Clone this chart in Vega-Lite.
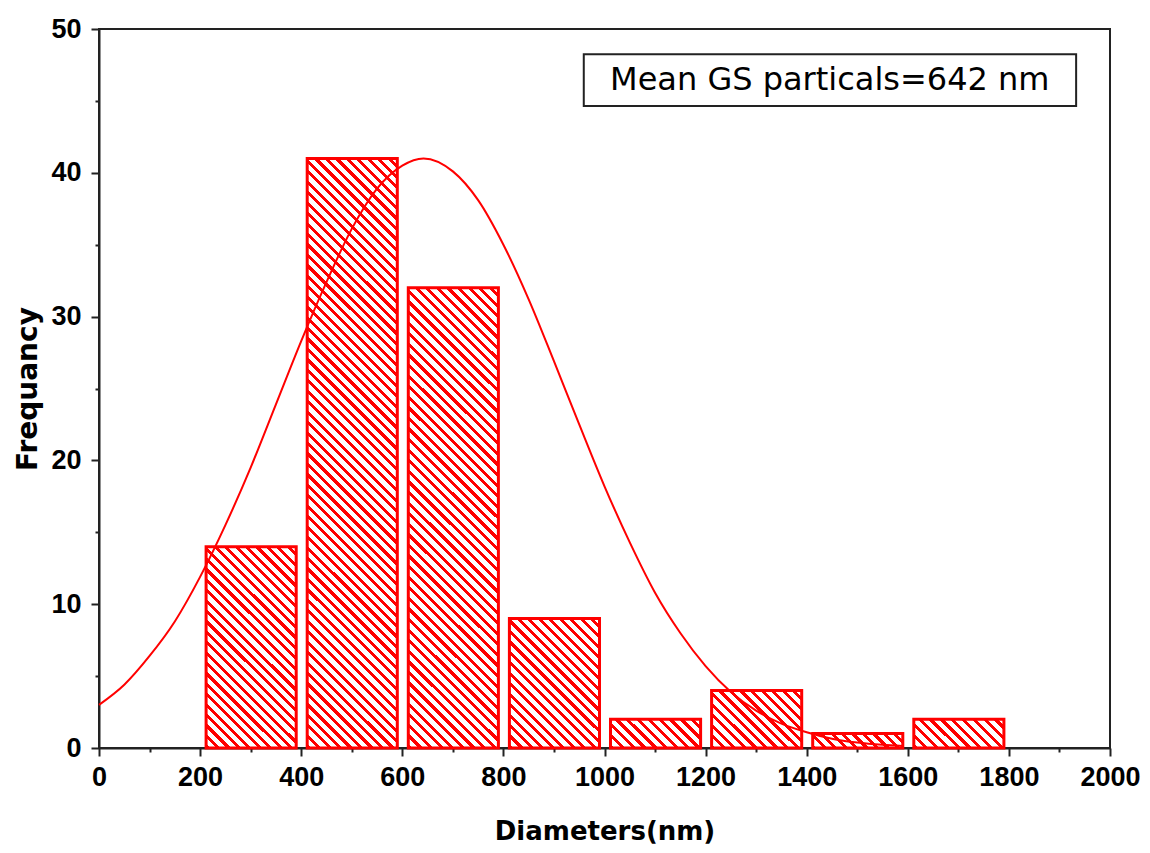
{"$schema":"https://vega.github.io/schema/vega-lite/v6.json","width":1011,"height":719,"autosize":"none","padding":{"left":99,"top":29,"right":40,"bottom":105},"background":"white",
"config":{"view":{"stroke":"#222","strokeWidth":2},"font":"DejaVu Sans","axis":{"domainColor":"#222","domainWidth":2,"tickColor":"#222","tickWidth":2,"grid":false,"labelFont":"Liberation Sans","labelFontWeight":"bold","labelFontSize":27,"labelColor":"black","titleFont":"DejaVu Sans","titleFontWeight":"bold","titleColor":"black","labelOverlap":false,"labelFlush":false}},
"layer":[
{"data":{"values":[{"start":200,"end":400,"Frequency":14},{"start":400,"end":600,"Frequency":41},{"start":600,"end":800,"Frequency":32},{"start":800,"end":1000,"Frequency":9},{"start":1000,"end":1200,"Frequency":2},{"start":1200,"end":1400,"Frequency":4},{"start":1400,"end":1600,"Frequency":1},{"start":1600,"end":1800,"Frequency":2}]},
"mark":{"type":"bar","stroke":"red","strokeWidth":3,"binSpacing":11},
"encoding":{
"x":{"field":"start","type":"quantitative","bin":"binned","title":"Diameters(nm)","scale":{"domain":[0,2000],"nice":false},"axis":{"title":"Diameters(nm)","titleFontSize":26,"titlePadding":28,"values":[0,100,200,300,400,500,600,700,800,900,1000,1100,1200,1300,1400,1500,1600,1700,1800,1900,2000],"labelExpr":"datum.value % 200 === 0 ? datum.label : ''","tickSize":{"condition":{"test":"datum.value % 200 === 0","value":8},"value":4},"labelPadding":8,"format":"d"}},
"x2":{"field":"end"},
"y":{"field":"Frequency","type":"quantitative","title":"Frequancy","scale":{"domain":[0,50],"nice":false},"axis":{"title":"Frequancy","titleFontSize":28,"titlePadding":8,"values":[0,5,10,15,20,25,30,35,40,45,50],"labelExpr":"datum.value % 10 === 0 ? datum.label : ''","tickSize":{"condition":{"test":"datum.value % 10 === 0","value":8},"value":4},"labelPadding":10}},
"fill":{"condition":[
{"test":"datum.Frequency == 1","value":{"gradient":"linear","x1":0,"y1":1,"x2":1.131,"y2":0.819,"stops":[{"offset":0,"color":"red"},{"offset":0.04,"color":"red"},{"offset":0.04,"color":"#fff"},{"offset":0.1,"color":"#fff"},{"offset":0.1,"color":"red"},{"offset":0.14,"color":"red"},{"offset":0.14,"color":"#fff"},{"offset":0.2,"color":"#fff"},{"offset":0.2,"color":"red"},{"offset":0.24,"color":"red"},{"offset":0.24,"color":"#fff"},{"offset":0.3,"color":"#fff"},{"offset":0.3,"color":"red"},{"offset":0.34,"color":"red"},{"offset":0.34,"color":"#fff"},{"offset":0.4,"color":"#fff"},{"offset":0.4,"color":"red"},{"offset":0.44,"color":"red"},{"offset":0.44,"color":"#fff"},{"offset":0.5,"color":"#fff"},{"offset":0.5,"color":"red"},{"offset":0.54,"color":"red"},{"offset":0.54,"color":"#fff"},{"offset":0.6,"color":"#fff"},{"offset":0.6,"color":"red"},{"offset":0.64,"color":"red"},{"offset":0.64,"color":"#fff"},{"offset":0.7,"color":"#fff"},{"offset":0.7,"color":"red"},{"offset":0.74,"color":"red"},{"offset":0.74,"color":"#fff"},{"offset":0.8,"color":"#fff"},{"offset":0.8,"color":"red"},{"offset":0.84,"color":"red"},{"offset":0.84,"color":"#fff"},{"offset":0.9,"color":"#fff"},{"offset":0.9,"color":"red"},{"offset":0.94,"color":"red"},{"offset":0.94,"color":"#fff"},{"offset":1,"color":"#fff"}]}},
{"test":"datum.Frequency == 2","value":{"gradient":"linear","x1":0,"y1":1,"x2":1.197,"y2":0.617,"stops":[{"offset":0,"color":"red"},{"offset":0.0364,"color":"red"},{"offset":0.0364,"color":"#fff"},{"offset":0.0909,"color":"#fff"},{"offset":0.0909,"color":"red"},{"offset":0.1273,"color":"red"},{"offset":0.1273,"color":"#fff"},{"offset":0.1818,"color":"#fff"},{"offset":0.1818,"color":"red"},{"offset":0.2182,"color":"red"},{"offset":0.2182,"color":"#fff"},{"offset":0.2727,"color":"#fff"},{"offset":0.2727,"color":"red"},{"offset":0.3091,"color":"red"},{"offset":0.3091,"color":"#fff"},{"offset":0.3636,"color":"#fff"},{"offset":0.3636,"color":"red"},{"offset":0.4,"color":"red"},{"offset":0.4,"color":"#fff"},{"offset":0.4545,"color":"#fff"},{"offset":0.4545,"color":"red"},{"offset":0.4909,"color":"red"},{"offset":0.4909,"color":"#fff"},{"offset":0.5455,"color":"#fff"},{"offset":0.5455,"color":"red"},{"offset":0.5818,"color":"red"},{"offset":0.5818,"color":"#fff"},{"offset":0.6364,"color":"#fff"},{"offset":0.6364,"color":"red"},{"offset":0.6727,"color":"red"},{"offset":0.6727,"color":"#fff"},{"offset":0.7273,"color":"#fff"},{"offset":0.7273,"color":"red"},{"offset":0.7636,"color":"red"},{"offset":0.7636,"color":"#fff"},{"offset":0.8182,"color":"#fff"},{"offset":0.8182,"color":"red"},{"offset":0.8545,"color":"red"},{"offset":0.8545,"color":"#fff"},{"offset":0.9091,"color":"#fff"},{"offset":0.9091,"color":"red"},{"offset":0.9455,"color":"red"},{"offset":0.9455,"color":"#fff"},{"offset":1,"color":"#fff"}]}},
{"test":"datum.Frequency == 4","value":{"gradient":"linear","x1":0,"y1":1,"x2":1.164,"y2":0.256,"stops":[{"offset":0,"color":"red"},{"offset":0.0286,"color":"red"},{"offset":0.0286,"color":"#fff"},{"offset":0.0714,"color":"#fff"},{"offset":0.0714,"color":"red"},{"offset":0.1,"color":"red"},{"offset":0.1,"color":"#fff"},{"offset":0.1429,"color":"#fff"},{"offset":0.1429,"color":"red"},{"offset":0.1714,"color":"red"},{"offset":0.1714,"color":"#fff"},{"offset":0.2143,"color":"#fff"},{"offset":0.2143,"color":"red"},{"offset":0.2429,"color":"red"},{"offset":0.2429,"color":"#fff"},{"offset":0.2857,"color":"#fff"},{"offset":0.2857,"color":"red"},{"offset":0.3143,"color":"red"},{"offset":0.3143,"color":"#fff"},{"offset":0.3571,"color":"#fff"},{"offset":0.3571,"color":"red"},{"offset":0.3857,"color":"red"},{"offset":0.3857,"color":"#fff"},{"offset":0.4286,"color":"#fff"},{"offset":0.4286,"color":"red"},{"offset":0.4571,"color":"red"},{"offset":0.4571,"color":"#fff"},{"offset":0.5,"color":"#fff"},{"offset":0.5,"color":"red"},{"offset":0.5286,"color":"red"},{"offset":0.5286,"color":"#fff"},{"offset":0.5714,"color":"#fff"},{"offset":0.5714,"color":"red"},{"offset":0.6,"color":"red"},{"offset":0.6,"color":"#fff"},{"offset":0.6429,"color":"#fff"},{"offset":0.6429,"color":"red"},{"offset":0.6714,"color":"red"},{"offset":0.6714,"color":"#fff"},{"offset":0.7143,"color":"#fff"},{"offset":0.7143,"color":"red"},{"offset":0.7429,"color":"red"},{"offset":0.7429,"color":"#fff"},{"offset":0.7857,"color":"#fff"},{"offset":0.7857,"color":"red"},{"offset":0.8143,"color":"red"},{"offset":0.8143,"color":"#fff"},{"offset":0.8571,"color":"#fff"},{"offset":0.8571,"color":"red"},{"offset":0.8857,"color":"red"},{"offset":0.8857,"color":"#fff"},{"offset":0.9286,"color":"#fff"},{"offset":0.9286,"color":"red"},{"offset":0.9571,"color":"red"},{"offset":0.9571,"color":"#fff"},{"offset":1,"color":"#fff"}]}},
{"test":"datum.Frequency == 9","value":{"gradient":"linear","x1":0,"y1":1,"x2":0.795,"y2":-0.143,"stops":[{"offset":0,"color":"red"},{"offset":0.019,"color":"red"},{"offset":0.019,"color":"#fff"},{"offset":0.0476,"color":"#fff"},{"offset":0.0476,"color":"red"},{"offset":0.0667,"color":"red"},{"offset":0.0667,"color":"#fff"},{"offset":0.0952,"color":"#fff"},{"offset":0.0952,"color":"red"},{"offset":0.1143,"color":"red"},{"offset":0.1143,"color":"#fff"},{"offset":0.1429,"color":"#fff"},{"offset":0.1429,"color":"red"},{"offset":0.1619,"color":"red"},{"offset":0.1619,"color":"#fff"},{"offset":0.1905,"color":"#fff"},{"offset":0.1905,"color":"red"},{"offset":0.2095,"color":"red"},{"offset":0.2095,"color":"#fff"},{"offset":0.2381,"color":"#fff"},{"offset":0.2381,"color":"red"},{"offset":0.2571,"color":"red"},{"offset":0.2571,"color":"#fff"},{"offset":0.2857,"color":"#fff"},{"offset":0.2857,"color":"red"},{"offset":0.3048,"color":"red"},{"offset":0.3048,"color":"#fff"},{"offset":0.3333,"color":"#fff"},{"offset":0.3333,"color":"red"},{"offset":0.3524,"color":"red"},{"offset":0.3524,"color":"#fff"},{"offset":0.381,"color":"#fff"},{"offset":0.381,"color":"red"},{"offset":0.4,"color":"red"},{"offset":0.4,"color":"#fff"},{"offset":0.4286,"color":"#fff"},{"offset":0.4286,"color":"red"},{"offset":0.4476,"color":"red"},{"offset":0.4476,"color":"#fff"},{"offset":0.4762,"color":"#fff"},{"offset":0.4762,"color":"red"},{"offset":0.4952,"color":"red"},{"offset":0.4952,"color":"#fff"},{"offset":0.5238,"color":"#fff"},{"offset":0.5238,"color":"red"},{"offset":0.5429,"color":"red"},{"offset":0.5429,"color":"#fff"},{"offset":0.5714,"color":"#fff"},{"offset":0.5714,"color":"red"},{"offset":0.5905,"color":"red"},{"offset":0.5905,"color":"#fff"},{"offset":0.619,"color":"#fff"},{"offset":0.619,"color":"red"},{"offset":0.6381,"color":"red"},{"offset":0.6381,"color":"#fff"},{"offset":0.6667,"color":"#fff"},{"offset":0.6667,"color":"red"},{"offset":0.6857,"color":"red"},{"offset":0.6857,"color":"#fff"},{"offset":0.7143,"color":"#fff"},{"offset":0.7143,"color":"red"},{"offset":0.7333,"color":"red"},{"offset":0.7333,"color":"#fff"},{"offset":0.7619,"color":"#fff"},{"offset":0.7619,"color":"red"},{"offset":0.781,"color":"red"},{"offset":0.781,"color":"#fff"},{"offset":0.8095,"color":"#fff"},{"offset":0.8095,"color":"red"},{"offset":0.8286,"color":"red"},{"offset":0.8286,"color":"#fff"},{"offset":0.8571,"color":"#fff"},{"offset":0.8571,"color":"red"},{"offset":0.8762,"color":"red"},{"offset":0.8762,"color":"#fff"},{"offset":0.9048,"color":"#fff"},{"offset":0.9048,"color":"red"},{"offset":0.9238,"color":"red"},{"offset":0.9238,"color":"#fff"},{"offset":0.9524,"color":"#fff"},{"offset":0.9524,"color":"red"},{"offset":0.9714,"color":"red"},{"offset":0.9714,"color":"#fff"},{"offset":1,"color":"#fff"}]}},
{"test":"datum.Frequency == 14","value":{"gradient":"linear","x1":0,"y1":1,"x2":0.539,"y2":-0.206,"stops":[{"offset":0,"color":"red"},{"offset":0.0143,"color":"red"},{"offset":0.0143,"color":"#fff"},{"offset":0.0357,"color":"#fff"},{"offset":0.0357,"color":"red"},{"offset":0.05,"color":"red"},{"offset":0.05,"color":"#fff"},{"offset":0.0714,"color":"#fff"},{"offset":0.0714,"color":"red"},{"offset":0.0857,"color":"red"},{"offset":0.0857,"color":"#fff"},{"offset":0.1071,"color":"#fff"},{"offset":0.1071,"color":"red"},{"offset":0.1214,"color":"red"},{"offset":0.1214,"color":"#fff"},{"offset":0.1429,"color":"#fff"},{"offset":0.1429,"color":"red"},{"offset":0.1571,"color":"red"},{"offset":0.1571,"color":"#fff"},{"offset":0.1786,"color":"#fff"},{"offset":0.1786,"color":"red"},{"offset":0.1929,"color":"red"},{"offset":0.1929,"color":"#fff"},{"offset":0.2143,"color":"#fff"},{"offset":0.2143,"color":"red"},{"offset":0.2286,"color":"red"},{"offset":0.2286,"color":"#fff"},{"offset":0.25,"color":"#fff"},{"offset":0.25,"color":"red"},{"offset":0.2643,"color":"red"},{"offset":0.2643,"color":"#fff"},{"offset":0.2857,"color":"#fff"},{"offset":0.2857,"color":"red"},{"offset":0.3,"color":"red"},{"offset":0.3,"color":"#fff"},{"offset":0.3214,"color":"#fff"},{"offset":0.3214,"color":"red"},{"offset":0.3357,"color":"red"},{"offset":0.3357,"color":"#fff"},{"offset":0.3571,"color":"#fff"},{"offset":0.3571,"color":"red"},{"offset":0.3714,"color":"red"},{"offset":0.3714,"color":"#fff"},{"offset":0.3929,"color":"#fff"},{"offset":0.3929,"color":"red"},{"offset":0.4071,"color":"red"},{"offset":0.4071,"color":"#fff"},{"offset":0.4286,"color":"#fff"},{"offset":0.4286,"color":"red"},{"offset":0.4429,"color":"red"},{"offset":0.4429,"color":"#fff"},{"offset":0.4643,"color":"#fff"},{"offset":0.4643,"color":"red"},{"offset":0.4786,"color":"red"},{"offset":0.4786,"color":"#fff"},{"offset":0.5,"color":"#fff"},{"offset":0.5,"color":"red"},{"offset":0.5143,"color":"red"},{"offset":0.5143,"color":"#fff"},{"offset":0.5357,"color":"#fff"},{"offset":0.5357,"color":"red"},{"offset":0.55,"color":"red"},{"offset":0.55,"color":"#fff"},{"offset":0.5714,"color":"#fff"},{"offset":0.5714,"color":"red"},{"offset":0.5857,"color":"red"},{"offset":0.5857,"color":"#fff"},{"offset":0.6071,"color":"#fff"},{"offset":0.6071,"color":"red"},{"offset":0.6214,"color":"red"},{"offset":0.6214,"color":"#fff"},{"offset":0.6429,"color":"#fff"},{"offset":0.6429,"color":"red"},{"offset":0.6571,"color":"red"},{"offset":0.6571,"color":"#fff"},{"offset":0.6786,"color":"#fff"},{"offset":0.6786,"color":"red"},{"offset":0.6929,"color":"red"},{"offset":0.6929,"color":"#fff"},{"offset":0.7143,"color":"#fff"},{"offset":0.7143,"color":"red"},{"offset":0.7286,"color":"red"},{"offset":0.7286,"color":"#fff"},{"offset":0.75,"color":"#fff"},{"offset":0.75,"color":"red"},{"offset":0.7643,"color":"red"},{"offset":0.7643,"color":"#fff"},{"offset":0.7857,"color":"#fff"},{"offset":0.7857,"color":"red"},{"offset":0.8,"color":"red"},{"offset":0.8,"color":"#fff"},{"offset":0.8214,"color":"#fff"},{"offset":0.8214,"color":"red"},{"offset":0.8357,"color":"red"},{"offset":0.8357,"color":"#fff"},{"offset":0.8571,"color":"#fff"},{"offset":0.8571,"color":"red"},{"offset":0.8714,"color":"red"},{"offset":0.8714,"color":"#fff"},{"offset":0.8929,"color":"#fff"},{"offset":0.8929,"color":"red"},{"offset":0.9071,"color":"red"},{"offset":0.9071,"color":"#fff"},{"offset":0.9286,"color":"#fff"},{"offset":0.9286,"color":"red"},{"offset":0.9429,"color":"red"},{"offset":0.9429,"color":"#fff"},{"offset":0.9643,"color":"#fff"},{"offset":0.9643,"color":"red"},{"offset":0.9786,"color":"red"},{"offset":0.9786,"color":"#fff"},{"offset":1,"color":"#fff"}]}},
{"test":"datum.Frequency == 32","value":{"gradient":"linear","x1":0,"y1":1,"x2":0.225,"y2":-0.152,"stops":[{"offset":0,"color":"red"},{"offset":0.0077,"color":"red"},{"offset":0.0077,"color":"#fff"},{"offset":0.0192,"color":"#fff"},{"offset":0.0192,"color":"red"},{"offset":0.0269,"color":"red"},{"offset":0.0269,"color":"#fff"},{"offset":0.0385,"color":"#fff"},{"offset":0.0385,"color":"red"},{"offset":0.0462,"color":"red"},{"offset":0.0462,"color":"#fff"},{"offset":0.0577,"color":"#fff"},{"offset":0.0577,"color":"red"},{"offset":0.0654,"color":"red"},{"offset":0.0654,"color":"#fff"},{"offset":0.0769,"color":"#fff"},{"offset":0.0769,"color":"red"},{"offset":0.0846,"color":"red"},{"offset":0.0846,"color":"#fff"},{"offset":0.0962,"color":"#fff"},{"offset":0.0962,"color":"red"},{"offset":0.1038,"color":"red"},{"offset":0.1038,"color":"#fff"},{"offset":0.1154,"color":"#fff"},{"offset":0.1154,"color":"red"},{"offset":0.1231,"color":"red"},{"offset":0.1231,"color":"#fff"},{"offset":0.1346,"color":"#fff"},{"offset":0.1346,"color":"red"},{"offset":0.1423,"color":"red"},{"offset":0.1423,"color":"#fff"},{"offset":0.1538,"color":"#fff"},{"offset":0.1538,"color":"red"},{"offset":0.1615,"color":"red"},{"offset":0.1615,"color":"#fff"},{"offset":0.1731,"color":"#fff"},{"offset":0.1731,"color":"red"},{"offset":0.1808,"color":"red"},{"offset":0.1808,"color":"#fff"},{"offset":0.1923,"color":"#fff"},{"offset":0.1923,"color":"red"},{"offset":0.2,"color":"red"},{"offset":0.2,"color":"#fff"},{"offset":0.2115,"color":"#fff"},{"offset":0.2115,"color":"red"},{"offset":0.2192,"color":"red"},{"offset":0.2192,"color":"#fff"},{"offset":0.2308,"color":"#fff"},{"offset":0.2308,"color":"red"},{"offset":0.2385,"color":"red"},{"offset":0.2385,"color":"#fff"},{"offset":0.25,"color":"#fff"},{"offset":0.25,"color":"red"},{"offset":0.2577,"color":"red"},{"offset":0.2577,"color":"#fff"},{"offset":0.2692,"color":"#fff"},{"offset":0.2692,"color":"red"},{"offset":0.2769,"color":"red"},{"offset":0.2769,"color":"#fff"},{"offset":0.2885,"color":"#fff"},{"offset":0.2885,"color":"red"},{"offset":0.2962,"color":"red"},{"offset":0.2962,"color":"#fff"},{"offset":0.3077,"color":"#fff"},{"offset":0.3077,"color":"red"},{"offset":0.3154,"color":"red"},{"offset":0.3154,"color":"#fff"},{"offset":0.3269,"color":"#fff"},{"offset":0.3269,"color":"red"},{"offset":0.3346,"color":"red"},{"offset":0.3346,"color":"#fff"},{"offset":0.3462,"color":"#fff"},{"offset":0.3462,"color":"red"},{"offset":0.3538,"color":"red"},{"offset":0.3538,"color":"#fff"},{"offset":0.3654,"color":"#fff"},{"offset":0.3654,"color":"red"},{"offset":0.3731,"color":"red"},{"offset":0.3731,"color":"#fff"},{"offset":0.3846,"color":"#fff"},{"offset":0.3846,"color":"red"},{"offset":0.3923,"color":"red"},{"offset":0.3923,"color":"#fff"},{"offset":0.4038,"color":"#fff"},{"offset":0.4038,"color":"red"},{"offset":0.4115,"color":"red"},{"offset":0.4115,"color":"#fff"},{"offset":0.4231,"color":"#fff"},{"offset":0.4231,"color":"red"},{"offset":0.4308,"color":"red"},{"offset":0.4308,"color":"#fff"},{"offset":0.4423,"color":"#fff"},{"offset":0.4423,"color":"red"},{"offset":0.45,"color":"red"},{"offset":0.45,"color":"#fff"},{"offset":0.4615,"color":"#fff"},{"offset":0.4615,"color":"red"},{"offset":0.4692,"color":"red"},{"offset":0.4692,"color":"#fff"},{"offset":0.4808,"color":"#fff"},{"offset":0.4808,"color":"red"},{"offset":0.4885,"color":"red"},{"offset":0.4885,"color":"#fff"},{"offset":0.5,"color":"#fff"},{"offset":0.5,"color":"red"},{"offset":0.5077,"color":"red"},{"offset":0.5077,"color":"#fff"},{"offset":0.5192,"color":"#fff"},{"offset":0.5192,"color":"red"},{"offset":0.5269,"color":"red"},{"offset":0.5269,"color":"#fff"},{"offset":0.5385,"color":"#fff"},{"offset":0.5385,"color":"red"},{"offset":0.5462,"color":"red"},{"offset":0.5462,"color":"#fff"},{"offset":0.5577,"color":"#fff"},{"offset":0.5577,"color":"red"},{"offset":0.5654,"color":"red"},{"offset":0.5654,"color":"#fff"},{"offset":0.5769,"color":"#fff"},{"offset":0.5769,"color":"red"},{"offset":0.5846,"color":"red"},{"offset":0.5846,"color":"#fff"},{"offset":0.5962,"color":"#fff"},{"offset":0.5962,"color":"red"},{"offset":0.6038,"color":"red"},{"offset":0.6038,"color":"#fff"},{"offset":0.6154,"color":"#fff"},{"offset":0.6154,"color":"red"},{"offset":0.6231,"color":"red"},{"offset":0.6231,"color":"#fff"},{"offset":0.6346,"color":"#fff"},{"offset":0.6346,"color":"red"},{"offset":0.6423,"color":"red"},{"offset":0.6423,"color":"#fff"},{"offset":0.6538,"color":"#fff"},{"offset":0.6538,"color":"red"},{"offset":0.6615,"color":"red"},{"offset":0.6615,"color":"#fff"},{"offset":0.6731,"color":"#fff"},{"offset":0.6731,"color":"red"},{"offset":0.6808,"color":"red"},{"offset":0.6808,"color":"#fff"},{"offset":0.6923,"color":"#fff"},{"offset":0.6923,"color":"red"},{"offset":0.7,"color":"red"},{"offset":0.7,"color":"#fff"},{"offset":0.7115,"color":"#fff"},{"offset":0.7115,"color":"red"},{"offset":0.7192,"color":"red"},{"offset":0.7192,"color":"#fff"},{"offset":0.7308,"color":"#fff"},{"offset":0.7308,"color":"red"},{"offset":0.7385,"color":"red"},{"offset":0.7385,"color":"#fff"},{"offset":0.75,"color":"#fff"},{"offset":0.75,"color":"red"},{"offset":0.7577,"color":"red"},{"offset":0.7577,"color":"#fff"},{"offset":0.7692,"color":"#fff"},{"offset":0.7692,"color":"red"},{"offset":0.7769,"color":"red"},{"offset":0.7769,"color":"#fff"},{"offset":0.7885,"color":"#fff"},{"offset":0.7885,"color":"red"},{"offset":0.7962,"color":"red"},{"offset":0.7962,"color":"#fff"},{"offset":0.8077,"color":"#fff"},{"offset":0.8077,"color":"red"},{"offset":0.8154,"color":"red"},{"offset":0.8154,"color":"#fff"},{"offset":0.8269,"color":"#fff"},{"offset":0.8269,"color":"red"},{"offset":0.8346,"color":"red"},{"offset":0.8346,"color":"#fff"},{"offset":0.8462,"color":"#fff"},{"offset":0.8462,"color":"red"},{"offset":0.8538,"color":"red"},{"offset":0.8538,"color":"#fff"},{"offset":0.8654,"color":"#fff"},{"offset":0.8654,"color":"red"},{"offset":0.8731,"color":"red"},{"offset":0.8731,"color":"#fff"},{"offset":0.8846,"color":"#fff"},{"offset":0.8846,"color":"red"},{"offset":0.8923,"color":"red"},{"offset":0.8923,"color":"#fff"},{"offset":0.9038,"color":"#fff"},{"offset":0.9038,"color":"red"},{"offset":0.9115,"color":"red"},{"offset":0.9115,"color":"#fff"},{"offset":0.9231,"color":"#fff"},{"offset":0.9231,"color":"red"},{"offset":0.9308,"color":"red"},{"offset":0.9308,"color":"#fff"},{"offset":0.9423,"color":"#fff"},{"offset":0.9423,"color":"red"},{"offset":0.95,"color":"red"},{"offset":0.95,"color":"#fff"},{"offset":0.9615,"color":"#fff"},{"offset":0.9615,"color":"red"},{"offset":0.9692,"color":"red"},{"offset":0.9692,"color":"#fff"},{"offset":0.9808,"color":"#fff"},{"offset":0.9808,"color":"red"},{"offset":0.9885,"color":"red"},{"offset":0.9885,"color":"#fff"},{"offset":1,"color":"#fff"}]}}],
"value":{"gradient":"linear","x1":0,"y1":1,"x2":0.172,"y2":-0.126,"stops":[{"offset":0,"color":"red"},{"offset":0.0062,"color":"red"},{"offset":0.0062,"color":"#fff"},{"offset":0.0154,"color":"#fff"},{"offset":0.0154,"color":"red"},{"offset":0.0215,"color":"red"},{"offset":0.0215,"color":"#fff"},{"offset":0.0308,"color":"#fff"},{"offset":0.0308,"color":"red"},{"offset":0.0369,"color":"red"},{"offset":0.0369,"color":"#fff"},{"offset":0.0462,"color":"#fff"},{"offset":0.0462,"color":"red"},{"offset":0.0523,"color":"red"},{"offset":0.0523,"color":"#fff"},{"offset":0.0615,"color":"#fff"},{"offset":0.0615,"color":"red"},{"offset":0.0677,"color":"red"},{"offset":0.0677,"color":"#fff"},{"offset":0.0769,"color":"#fff"},{"offset":0.0769,"color":"red"},{"offset":0.0831,"color":"red"},{"offset":0.0831,"color":"#fff"},{"offset":0.0923,"color":"#fff"},{"offset":0.0923,"color":"red"},{"offset":0.0985,"color":"red"},{"offset":0.0985,"color":"#fff"},{"offset":0.1077,"color":"#fff"},{"offset":0.1077,"color":"red"},{"offset":0.1138,"color":"red"},{"offset":0.1138,"color":"#fff"},{"offset":0.1231,"color":"#fff"},{"offset":0.1231,"color":"red"},{"offset":0.1292,"color":"red"},{"offset":0.1292,"color":"#fff"},{"offset":0.1385,"color":"#fff"},{"offset":0.1385,"color":"red"},{"offset":0.1446,"color":"red"},{"offset":0.1446,"color":"#fff"},{"offset":0.1538,"color":"#fff"},{"offset":0.1538,"color":"red"},{"offset":0.16,"color":"red"},{"offset":0.16,"color":"#fff"},{"offset":0.1692,"color":"#fff"},{"offset":0.1692,"color":"red"},{"offset":0.1754,"color":"red"},{"offset":0.1754,"color":"#fff"},{"offset":0.1846,"color":"#fff"},{"offset":0.1846,"color":"red"},{"offset":0.1908,"color":"red"},{"offset":0.1908,"color":"#fff"},{"offset":0.2,"color":"#fff"},{"offset":0.2,"color":"red"},{"offset":0.2062,"color":"red"},{"offset":0.2062,"color":"#fff"},{"offset":0.2154,"color":"#fff"},{"offset":0.2154,"color":"red"},{"offset":0.2215,"color":"red"},{"offset":0.2215,"color":"#fff"},{"offset":0.2308,"color":"#fff"},{"offset":0.2308,"color":"red"},{"offset":0.2369,"color":"red"},{"offset":0.2369,"color":"#fff"},{"offset":0.2462,"color":"#fff"},{"offset":0.2462,"color":"red"},{"offset":0.2523,"color":"red"},{"offset":0.2523,"color":"#fff"},{"offset":0.2615,"color":"#fff"},{"offset":0.2615,"color":"red"},{"offset":0.2677,"color":"red"},{"offset":0.2677,"color":"#fff"},{"offset":0.2769,"color":"#fff"},{"offset":0.2769,"color":"red"},{"offset":0.2831,"color":"red"},{"offset":0.2831,"color":"#fff"},{"offset":0.2923,"color":"#fff"},{"offset":0.2923,"color":"red"},{"offset":0.2985,"color":"red"},{"offset":0.2985,"color":"#fff"},{"offset":0.3077,"color":"#fff"},{"offset":0.3077,"color":"red"},{"offset":0.3138,"color":"red"},{"offset":0.3138,"color":"#fff"},{"offset":0.3231,"color":"#fff"},{"offset":0.3231,"color":"red"},{"offset":0.3292,"color":"red"},{"offset":0.3292,"color":"#fff"},{"offset":0.3385,"color":"#fff"},{"offset":0.3385,"color":"red"},{"offset":0.3446,"color":"red"},{"offset":0.3446,"color":"#fff"},{"offset":0.3538,"color":"#fff"},{"offset":0.3538,"color":"red"},{"offset":0.36,"color":"red"},{"offset":0.36,"color":"#fff"},{"offset":0.3692,"color":"#fff"},{"offset":0.3692,"color":"red"},{"offset":0.3754,"color":"red"},{"offset":0.3754,"color":"#fff"},{"offset":0.3846,"color":"#fff"},{"offset":0.3846,"color":"red"},{"offset":0.3908,"color":"red"},{"offset":0.3908,"color":"#fff"},{"offset":0.4,"color":"#fff"},{"offset":0.4,"color":"red"},{"offset":0.4062,"color":"red"},{"offset":0.4062,"color":"#fff"},{"offset":0.4154,"color":"#fff"},{"offset":0.4154,"color":"red"},{"offset":0.4215,"color":"red"},{"offset":0.4215,"color":"#fff"},{"offset":0.4308,"color":"#fff"},{"offset":0.4308,"color":"red"},{"offset":0.4369,"color":"red"},{"offset":0.4369,"color":"#fff"},{"offset":0.4462,"color":"#fff"},{"offset":0.4462,"color":"red"},{"offset":0.4523,"color":"red"},{"offset":0.4523,"color":"#fff"},{"offset":0.4615,"color":"#fff"},{"offset":0.4615,"color":"red"},{"offset":0.4677,"color":"red"},{"offset":0.4677,"color":"#fff"},{"offset":0.4769,"color":"#fff"},{"offset":0.4769,"color":"red"},{"offset":0.4831,"color":"red"},{"offset":0.4831,"color":"#fff"},{"offset":0.4923,"color":"#fff"},{"offset":0.4923,"color":"red"},{"offset":0.4985,"color":"red"},{"offset":0.4985,"color":"#fff"},{"offset":0.5077,"color":"#fff"},{"offset":0.5077,"color":"red"},{"offset":0.5138,"color":"red"},{"offset":0.5138,"color":"#fff"},{"offset":0.5231,"color":"#fff"},{"offset":0.5231,"color":"red"},{"offset":0.5292,"color":"red"},{"offset":0.5292,"color":"#fff"},{"offset":0.5385,"color":"#fff"},{"offset":0.5385,"color":"red"},{"offset":0.5446,"color":"red"},{"offset":0.5446,"color":"#fff"},{"offset":0.5538,"color":"#fff"},{"offset":0.5538,"color":"red"},{"offset":0.56,"color":"red"},{"offset":0.56,"color":"#fff"},{"offset":0.5692,"color":"#fff"},{"offset":0.5692,"color":"red"},{"offset":0.5754,"color":"red"},{"offset":0.5754,"color":"#fff"},{"offset":0.5846,"color":"#fff"},{"offset":0.5846,"color":"red"},{"offset":0.5908,"color":"red"},{"offset":0.5908,"color":"#fff"},{"offset":0.6,"color":"#fff"},{"offset":0.6,"color":"red"},{"offset":0.6062,"color":"red"},{"offset":0.6062,"color":"#fff"},{"offset":0.6154,"color":"#fff"},{"offset":0.6154,"color":"red"},{"offset":0.6215,"color":"red"},{"offset":0.6215,"color":"#fff"},{"offset":0.6308,"color":"#fff"},{"offset":0.6308,"color":"red"},{"offset":0.6369,"color":"red"},{"offset":0.6369,"color":"#fff"},{"offset":0.6462,"color":"#fff"},{"offset":0.6462,"color":"red"},{"offset":0.6523,"color":"red"},{"offset":0.6523,"color":"#fff"},{"offset":0.6615,"color":"#fff"},{"offset":0.6615,"color":"red"},{"offset":0.6677,"color":"red"},{"offset":0.6677,"color":"#fff"},{"offset":0.6769,"color":"#fff"},{"offset":0.6769,"color":"red"},{"offset":0.6831,"color":"red"},{"offset":0.6831,"color":"#fff"},{"offset":0.6923,"color":"#fff"},{"offset":0.6923,"color":"red"},{"offset":0.6985,"color":"red"},{"offset":0.6985,"color":"#fff"},{"offset":0.7077,"color":"#fff"},{"offset":0.7077,"color":"red"},{"offset":0.7138,"color":"red"},{"offset":0.7138,"color":"#fff"},{"offset":0.7231,"color":"#fff"},{"offset":0.7231,"color":"red"},{"offset":0.7292,"color":"red"},{"offset":0.7292,"color":"#fff"},{"offset":0.7385,"color":"#fff"},{"offset":0.7385,"color":"red"},{"offset":0.7446,"color":"red"},{"offset":0.7446,"color":"#fff"},{"offset":0.7538,"color":"#fff"},{"offset":0.7538,"color":"red"},{"offset":0.76,"color":"red"},{"offset":0.76,"color":"#fff"},{"offset":0.7692,"color":"#fff"},{"offset":0.7692,"color":"red"},{"offset":0.7754,"color":"red"},{"offset":0.7754,"color":"#fff"},{"offset":0.7846,"color":"#fff"},{"offset":0.7846,"color":"red"},{"offset":0.7908,"color":"red"},{"offset":0.7908,"color":"#fff"},{"offset":0.8,"color":"#fff"},{"offset":0.8,"color":"red"},{"offset":0.8062,"color":"red"},{"offset":0.8062,"color":"#fff"},{"offset":0.8154,"color":"#fff"},{"offset":0.8154,"color":"red"},{"offset":0.8215,"color":"red"},{"offset":0.8215,"color":"#fff"},{"offset":0.8308,"color":"#fff"},{"offset":0.8308,"color":"red"},{"offset":0.8369,"color":"red"},{"offset":0.8369,"color":"#fff"},{"offset":0.8462,"color":"#fff"},{"offset":0.8462,"color":"red"},{"offset":0.8523,"color":"red"},{"offset":0.8523,"color":"#fff"},{"offset":0.8615,"color":"#fff"},{"offset":0.8615,"color":"red"},{"offset":0.8677,"color":"red"},{"offset":0.8677,"color":"#fff"},{"offset":0.8769,"color":"#fff"},{"offset":0.8769,"color":"red"},{"offset":0.8831,"color":"red"},{"offset":0.8831,"color":"#fff"},{"offset":0.8923,"color":"#fff"},{"offset":0.8923,"color":"red"},{"offset":0.8985,"color":"red"},{"offset":0.8985,"color":"#fff"},{"offset":0.9077,"color":"#fff"},{"offset":0.9077,"color":"red"},{"offset":0.9138,"color":"red"},{"offset":0.9138,"color":"#fff"},{"offset":0.9231,"color":"#fff"},{"offset":0.9231,"color":"red"},{"offset":0.9292,"color":"red"},{"offset":0.9292,"color":"#fff"},{"offset":0.9385,"color":"#fff"},{"offset":0.9385,"color":"red"},{"offset":0.9446,"color":"red"},{"offset":0.9446,"color":"#fff"},{"offset":0.9538,"color":"#fff"},{"offset":0.9538,"color":"red"},{"offset":0.96,"color":"red"},{"offset":0.96,"color":"#fff"},{"offset":0.9692,"color":"#fff"},{"offset":0.9692,"color":"red"},{"offset":0.9754,"color":"red"},{"offset":0.9754,"color":"#fff"},{"offset":0.9846,"color":"#fff"},{"offset":0.9846,"color":"red"},{"offset":0.9908,"color":"red"},{"offset":0.9908,"color":"#fff"},{"offset":1,"color":"#fff"}]}}}},
{"data":{"values":[{"Diameter":0,"Fit":3.0},{"Diameter":50,"Fit":4.4},{"Diameter":100,"Fit":6.4},{"Diameter":150,"Fit":8.8},{"Diameter":200,"Fit":11.9},{"Diameter":250,"Fit":15.5},{"Diameter":300,"Fit":19.5},{"Diameter":350,"Fit":23.9},{"Diameter":400,"Fit":28.3},{"Diameter":450,"Fit":32.4},{"Diameter":500,"Fit":36.1},{"Diameter":550,"Fit":38.9},{"Diameter":600,"Fit":40.5},{"Diameter":642,"Fit":41.0},{"Diameter":700,"Fit":40.1},{"Diameter":750,"Fit":38.1},{"Diameter":800,"Fit":35.0},{"Diameter":850,"Fit":31.2},{"Diameter":900,"Fit":26.9},{"Diameter":950,"Fit":22.5},{"Diameter":1000,"Fit":18.2},{"Diameter":1050,"Fit":14.3},{"Diameter":1100,"Fit":10.8},{"Diameter":1150,"Fit":8.0},{"Diameter":1200,"Fit":5.7},{"Diameter":1250,"Fit":3.9},{"Diameter":1300,"Fit":2.6},{"Diameter":1350,"Fit":1.7},{"Diameter":1400,"Fit":1.1},{"Diameter":1450,"Fit":0.65},{"Diameter":1500,"Fit":0.38},{"Diameter":1550,"Fit":0.22},{"Diameter":1590,"Fit":0.14}]},
"mark":{"type":"line","color":"red","strokeWidth":2,"interpolate":"monotone"},
"encoding":{"x":{"field":"Diameter","type":"quantitative","title":"Diameters(nm)"},"y":{"field":"Fit","type":"quantitative","title":"Frequancy"}}},
{"data":{"values":[{"note":"Mean GS particals=642 nm"}]},"mark":{"type":"rect","fill":"white","stroke":"#222","strokeWidth":2},
"encoding":{"x":{"datum":959,"type":"quantitative","title":"Diameters(nm)"},"x2":{"datum":1933},"y":{"datum":48.25,"type":"quantitative","title":"Frequancy"},"y2":{"datum":44.65}}},
{"data":{"values":[{"note":"Mean GS particals=642 nm"}]},"mark":{"type":"text","font":"DejaVu Sans","fontSize":32,"align":"left","baseline":"middle","color":"black"},
"encoding":{"x":{"datum":1011,"type":"quantitative","title":"Diameters(nm)"},"y":{"datum":46.45,"type":"quantitative","title":"Frequancy"},"text":{"field":"note"}}}
]}
